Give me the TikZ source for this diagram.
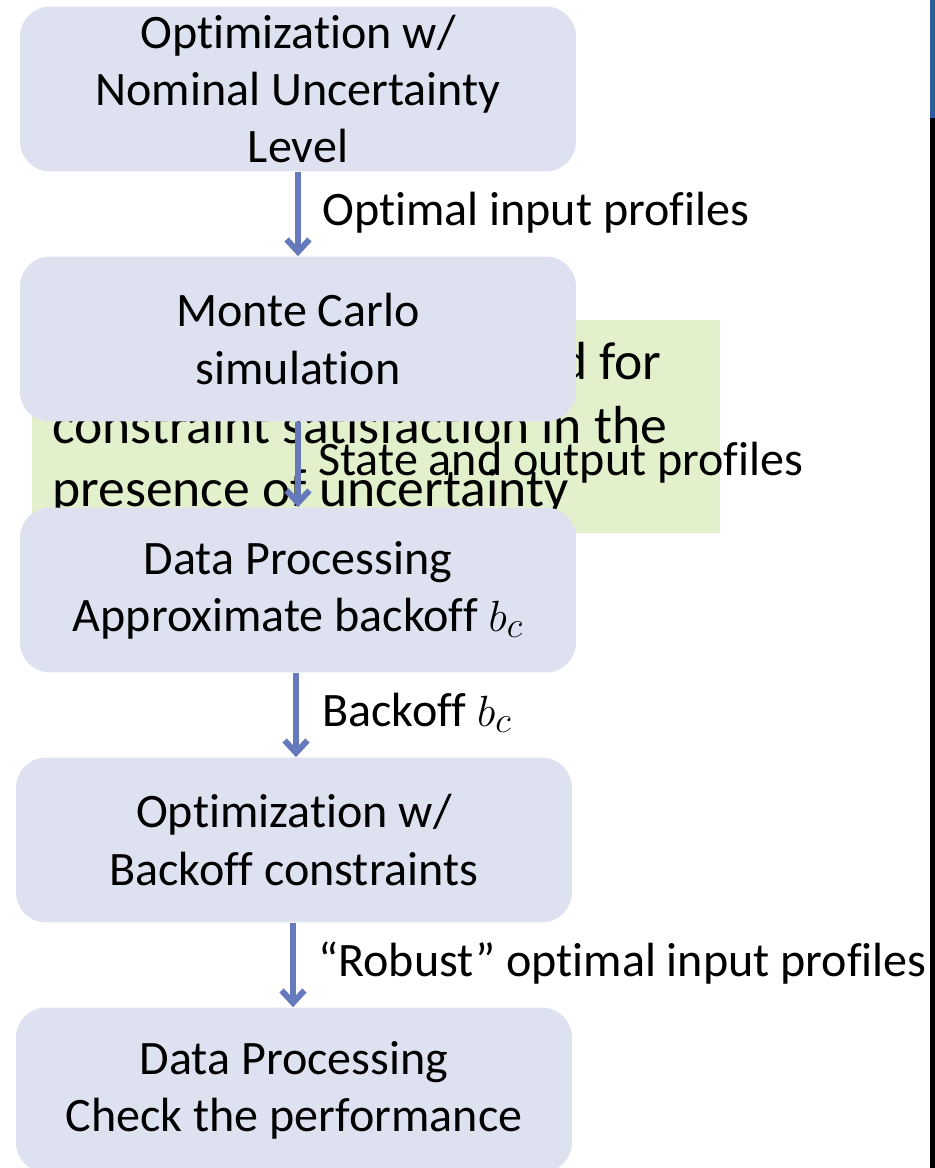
\documentclass[tikz,border=0pt]{standalone}
\usepackage{fontspec}
\setmainfont{Carlito}[Ligatures=NoCommon]
\usetikzlibrary{arrows.meta}
\definecolor{stagefill}{RGB}{222,226,240}
\definecolor{notefill}{RGB}{226,240,204}
\definecolor{flowblue}{RGB}{103,121,189}
\definecolor{barblue}{RGB}{46,94,158}
\begin{document}
\begin{tikzpicture}[x=0.02cm, y=-0.02cm,
    stage/.style={fill=stagefill, rounded corners=0.6cm, minimum width=11.12cm,
        minimum height=3.3cm, inner sep=0pt, align=center, font=\fontsize{27.35}{32.6}\selectfont},
    flow/.style={flowblue, line width=3.4pt, -{Straight Barb[length=7pt,width=13pt]}},
    flowlabel/.style={anchor=west, inner sep=0pt, font=\fontsize{27.35}{32.6}\selectfont},
    note/.style={inner sep=0pt, font=\fontsize{30.5}{35}\selectfont}]
    \useasboundingbox (0,0) rectangle (935,1168);
    \fill[notefill] (32,320) rectangle (720,533);
    \node[note, anchor=base east] (note1) at (662,380) {d for};
    \node[note, anchor=base west] (note2) at (52,443) {constraint satisfaction in the};
    \node[note, anchor=base west] (note3) at (52,506) {presence of uncertainty};
    \node[stage] (optnom) at (298,89) {Optimization w/\\ Nominal Uncertainty\\ Level};
    \node[stage] (mcsim) at (298,339) {Monte Carlo\\ simulation};
    \node[stage] (dpback) at (298,590) {Data Processing\\ Approximate backoff $b_c$};
    \node[stage] (optback) at (294,840) {Optimization w/\\ Backoff constraints};
    \node[stage] (dpcheck) at (294,1090) {Data Processing\\ Check the performance};
    \draw[flow] (optnom) -- (mcsim);
    \draw[flow] (mcsim) -- (dpback);
    \draw[flow] (dpback.south -| 296,0) -- (optback.north -| 296,0);
    \draw[flow] (optback.south -| 293,0) -- (dpcheck.north -| 293,0);
    \node[flowlabel] (lbl1) at (322,213) {Optimal input profiles};
    \node[flowlabel] (lbl2) at (318,463) {State and output profiles};
    \node[flowlabel] (lbl3) at (322,713) {Backoff $b_c$};
    \node[flowlabel] (lbl4) at (318,963) {“Robust” optimal input profiles};
    \fill[barblue] (930,0) rectangle (935,118);
    \fill[black] (930,118) rectangle (935,1168);
\end{tikzpicture}
\end{document}
